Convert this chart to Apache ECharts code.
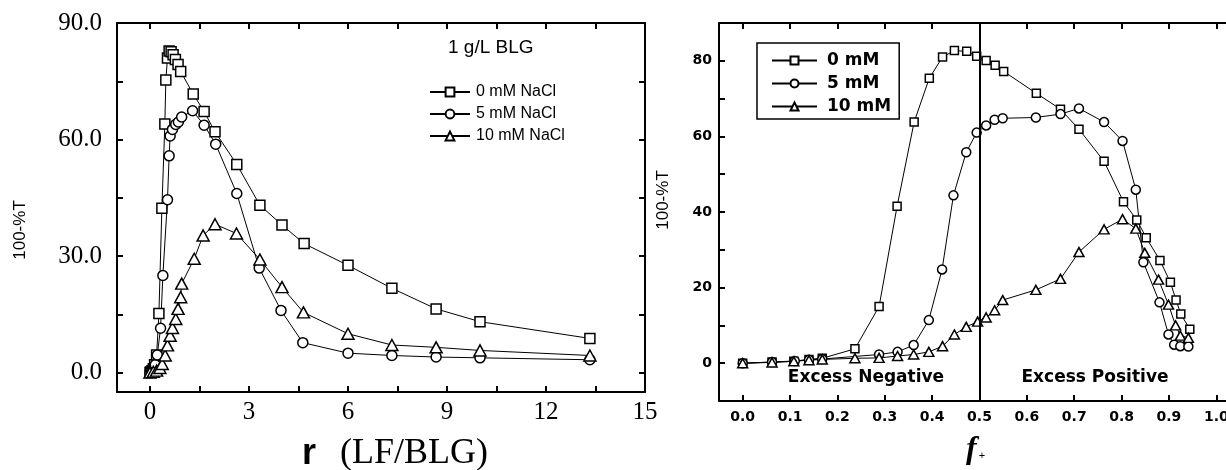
<!DOCTYPE html>
<html>
<head>
<meta charset="utf-8">
<script src="https://cdn.jsdelivr.net/npm/echarts@6/dist/echarts.min.js"></script>
<style>
  html, body { margin: 0; padding: 0; background: #fff; }
  #chart { width: 1226px; height: 470px; }
</style>
</head>
<body>
<div id="chart"></div>
<script>
// left panel: 100-%T vs r (LF/BLG), 1 g/L BLG
const r_0mM = [0, 0.03, 0.06, 0.1, 0.14, 0.2, 0.27, 0.36, 0.45, 0.48, 0.53, 0.58, 0.64, 0.7, 0.77, 0.85, 0.93, 1.31, 1.64, 1.97, 2.63, 3.33, 4.0, 4.67, 6.0, 7.33, 8.67, 10.0, 13.33];
const t_0mM = [0, 0.2, 0.5, 1.0, 2.0, 4.5, 15.2, 42.3, 64.0, 75.3, 81.0, 82.8, 82.6, 81.8, 80.6, 79.3, 77.5, 71.7, 67.2, 62.0, 53.6, 43.1, 38.0, 33.2, 27.6, 21.7, 16.4, 13.1, 8.8];
const r_5mM = [0, 0.05, 0.1, 0.16, 0.22, 0.32, 0.39, 0.53, 0.58, 0.61, 0.68, 0.78, 0.86, 0.96, 1.29, 1.64, 1.99, 2.63, 3.31, 3.97, 4.63, 6.0, 7.33, 8.67, 10.0, 13.33];
const t_5mM = [0, 0.3, 0.8, 2.0, 4.5, 11.4, 25.0, 44.5, 55.8, 60.9, 62.6, 63.9, 64.5, 65.8, 67.4, 63.7, 58.8, 46.1, 26.9, 16.0, 7.7, 5.0, 4.4, 4.0, 3.8, 3.3];
const r_10mM = [0, 0.1, 0.2, 0.3, 0.37, 0.46, 0.53, 0.61, 0.68, 0.78, 0.85, 0.93, 0.96, 1.34, 1.61, 1.97, 2.62, 3.33, 4.0, 4.65, 6.0, 7.33, 8.67, 10.0, 13.33];
const t_10mM = [0, 0.2, 0.5, 1.2, 2.2, 4.4, 7.0, 9.5, 11.5, 13.8, 16.4, 19.4, 22.9, 29.3, 35.3, 38.2, 35.8, 29.1, 22.0, 15.5, 10.0, 7.1, 6.5, 5.7, 4.4];

// right panel: 100-%T vs f+
const f_0mM = [0, 0.062, 0.108, 0.14, 0.168, 0.237, 0.288, 0.326, 0.362, 0.394, 0.422, 0.447, 0.473, 0.494, 0.514, 0.533, 0.551, 0.62, 0.671, 0.71, 0.763, 0.804, 0.832, 0.852, 0.881, 0.903, 0.915, 0.925, 0.944];
const p_0mM = [0, 0.3, 0.5, 1.0, 1.3, 3.8, 15.0, 41.5, 63.8, 75.4, 81.0, 82.7, 82.5, 81.2, 80.1, 78.8, 77.2, 71.4, 67.2, 61.9, 53.4, 42.7, 37.9, 33.2, 27.2, 21.4, 16.7, 13.0, 9.0];
const f_5mM = [0, 0.062, 0.11, 0.14, 0.168, 0.288, 0.327, 0.361, 0.393, 0.421, 0.445, 0.472, 0.494, 0.514, 0.532, 0.549, 0.619, 0.671, 0.71, 0.763, 0.802, 0.83, 0.846, 0.88, 0.899, 0.911, 0.924, 0.941];
const p_5mM = [0, 0.3, 0.6, 0.9, 1.1, 2.3, 3.0, 4.8, 11.4, 24.8, 44.4, 55.8, 61.0, 62.9, 64.4, 64.8, 65.0, 65.9, 67.4, 63.8, 58.8, 45.9, 26.7, 16.1, 7.6, 4.9, 4.5, 4.4];
const f_10mM = [0, 0.062, 0.108, 0.14, 0.168, 0.237, 0.288, 0.327, 0.361, 0.393, 0.422, 0.447, 0.472, 0.496, 0.514, 0.532, 0.549, 0.619, 0.671, 0.71, 0.763, 0.802, 0.83, 0.849, 0.878, 0.899, 0.914, 0.924, 0.941];
const p_10mM = [0, 0.2, 0.5, 0.8, 1.0, 1.3, 1.4, 1.9, 2.3, 3.0, 4.5, 7.6, 9.6, 11.0, 12.1, 14.0, 16.7, 19.4, 22.3, 29.4, 35.4, 38.1, 35.6, 29.2, 22.1, 15.5, 10.0, 7.3, 6.7];

// tick positions / labels
const rTicks = [0, 1.5, 3, 4.5, 6, 7.5, 9, 10.5, 12, 13.5, 15];
const rLabels = [0, 3, 6, 9, 12, 15];
const tLeftTicks = [0, 15, 30, 45, 60, 75, 90];
const tLeftLabels = [0, 30, 60, 90];
const fTicks = [0, 0.1, 0.2, 0.3, 0.4, 0.5, 0.6, 0.7, 0.8, 0.9, 1.0];
const tRightTicks = [0, 10, 20, 30, 40, 50, 60, 70, 80];
const tRightLabels = [0, 20, 40, 60, 80];

const BLACK = '#000';
const chart = echarts.init(document.getElementById('chart'));

function pairs(xs, ys) {
    return xs.map((x, i) => [x, ys[i]]);
}

function lineSeries(name, xs, ys, symbol, size, gridIdx) {
    return {
        name: name,
        type: 'line',
        xAxisIndex: gridIdx * 2,
        yAxisIndex: gridIdx * 2,
        data: pairs(xs, ys),
        symbol: symbol,
        symbolSize: size,
        showAllSymbol: true,
        lineStyle: { color: BLACK, width: 1 },
        itemStyle: { color: '#fff', borderColor: BLACK, borderWidth: 1.5 },
        emphasis: { disabled: true }
    };
}

function frameAxis(gridIndex, position, min, max, ticks, labels, label) {
    return {
        type: 'value',
        gridIndex: gridIndex,
        position: position,
        min: min,
        max: max,
        axisLine: { show: true, onZero: false, lineStyle: { color: BLACK, width: 2 } },
        axisTick: { show: true, inside: true, length: 6, customValues: ticks, lineStyle: { color: BLACK, width: 2 } },
        axisLabel: labels ? Object.assign({ show: true, customValues: labels, color: BLACK }, label) : { show: false },
        splitLine: { show: false }
    };
}

const serifLabel = { fontFamily: 'Liberation Serif', fontSize: 25 };
const boldLabel = { fontFamily: 'DejaVu Sans', fontWeight: 'bold', fontSize: 14 };

const vLine = lineSeries('0 mM', f_0mM, p_0mM, 'rect', 8, 1);
vLine.markLine = {
    silent: true,
    symbol: ['none', 'none'],
    label: { show: false },
    lineStyle: { color: BLACK, width: 2, type: 'solid' },
    data: [{ xAxis: 0.5 }]
};

const options = {
    animation: false,
    grid: [
        { left: 117, top: 23, width: 528, height: 369, outerBoundsMode: 'none' },
        // right panel runs past the window edge, like the reference
        { left: 719, top: 23, width: 521, height: 378, outerBoundsMode: 'none' }
    ],
    xAxis: [
        frameAxis(0, 'bottom', -1, 15, rTicks, rLabels, Object.assign({ margin: 8 }, serifLabel)),
        frameAxis(0, 'top', -1, 15, rTicks, null),
        frameAxis(1, 'bottom', -0.05, 1.05, fTicks, fTicks, Object.assign({ margin: 9, formatter: v => v.toFixed(1) }, boldLabel)),
        frameAxis(1, 'top', -0.05, 1.05, fTicks, null)
    ],
    yAxis: [
        frameAxis(0, 'left', -5, 90, tLeftTicks, tLeftLabels, Object.assign({ margin: 15, formatter: v => v.toFixed(1) }, serifLabel)),
        frameAxis(0, 'right', -5, 90, tLeftTicks, null),
        frameAxis(1, 'left', -10, 90, tRightTicks, tRightLabels, Object.assign({ margin: 7 }, boldLabel)),
        frameAxis(1, 'right', -10, 90, tRightTicks, null)
    ],
    legend: [
        {
            data: ['0 mM NaCl', '5 mM NaCl', '10 mM NaCl'],
            orient: 'vertical',
            left: 424,
            top: 79,
            itemWidth: 40,
            itemHeight: 11,
            itemGap: 6,
            selectedMode: false,
            textStyle: { fontFamily: 'Liberation Sans', fontSize: 16, color: BLACK, padding: [0, 0, 0, 1] }
        },
        {
            data: ['0 mM', '5 mM', '10 mM'],
            orient: 'vertical',
            left: 757,
            top: 43,
            itemWidth: 45,
            itemHeight: 10,
            itemGap: 6,
            padding: [9, 8, 4, 14],
            borderColor: BLACK,
            borderWidth: 1.5,
            selectedMode: false,
            textStyle: { fontFamily: 'DejaVu Sans', fontWeight: 'bold', fontSize: 17, color: BLACK, padding: [0, 0, 0, 5] }
        }
    ],
    graphic: [
        { type: 'text', x: 448, y: 48, style: { text: '1 g/L BLG', fontFamily: 'Liberation Sans', fontSize: 19, fill: BLACK, verticalAlign: 'middle' } },
        { type: 'text', x: 20, y: 230, rotation: Math.PI / 2, style: { text: '100-%T', fontFamily: 'Liberation Sans', fontSize: 17, fill: BLACK, align: 'center', verticalAlign: 'middle' } },
        { type: 'text', x: 663, y: 200, rotation: Math.PI / 2, style: { text: '100-%T', fontFamily: 'Liberation Sans', fontSize: 17, fill: BLACK, align: 'center', verticalAlign: 'middle' } },
        {
            type: 'text', x: 302, y: 454,
            style: {
                text: '{a|r}{b|(LF/BLG)}',
                verticalAlign: 'middle',
                rich: {
                    a: { fontFamily: 'Liberation Sans', fontWeight: 'bold', fontSize: 36, fill: BLACK },
                    b: { fontFamily: 'Liberation Serif', fontSize: 36, fill: BLACK, padding: [0, 0, 0, 24] }
                }
            }
        },
        {
            type: 'text', x: 966, y: 450,
            style: {
                text: '{f|f}{p|+}',
                verticalAlign: 'middle',
                rich: {
                    f: { fontFamily: 'Liberation Serif', fontStyle: 'italic', fontWeight: 'bold', fontSize: 32, fill: BLACK },
                    p: { fontFamily: 'Liberation Sans', fontSize: 11, fill: BLACK, padding: [12, 0, 0, 2] }
                }
            }
        },
        { type: 'text', x: 866, y: 378, style: { text: 'Excess Negative', fontFamily: 'DejaVu Sans', fontWeight: 'bold', fontSize: 17, fill: BLACK, align: 'center', verticalAlign: 'middle' } },
        { type: 'text', x: 1095, y: 378, style: { text: 'Excess Positive', fontFamily: 'DejaVu Sans', fontWeight: 'bold', fontSize: 17, fill: BLACK, align: 'center', verticalAlign: 'middle' } }
    ],
    series: [
        lineSeries('0 mM NaCl', r_0mM, t_0mM, 'rect', 10, 0),
        lineSeries('5 mM NaCl', r_5mM, t_5mM, 'circle', 10, 0),
        lineSeries('10 mM NaCl', r_10mM, t_10mM, 'triangle', [12, 11], 0),
        vLine,
        lineSeries('5 mM', f_5mM, p_5mM, 'circle', 9, 1),
        lineSeries('10 mM', f_10mM, p_10mM, 'triangle', [10, 9], 1)
    ]
};

chart.setOption(options, true);
</script>
</body>
</html>
